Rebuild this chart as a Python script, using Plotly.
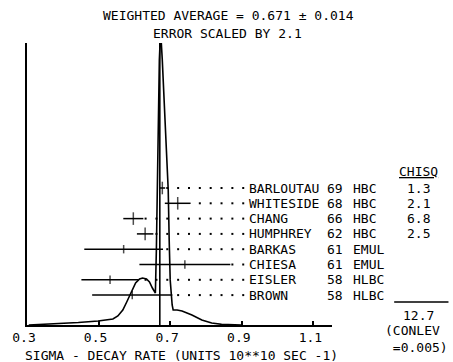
import plotly.graph_objects as go

# ---------------- data ----------------
names = ["BARLOUTAU", "WHITESIDE", "CHANG", "HUMPHREY", "BARKAS", "CHIESA", "EISLER", "BROWN"]
years = ["69", "68", "66", "62", "61", "61", "58", "58"]
techs = ["HBC", "HBC", "HBC", "HBC", "EMUL", "EMUL", "HLBC", "HLBC"]
values = [0.678, 0.721, 0.597, 0.630, 0.570, 0.741, 0.532, 0.594]
errors = [0.008, 0.036, 0.028, 0.023, 0.110, 0.127, 0.080, 0.112]
chisq = ["1.3", "2.1", "6.8", "2.5"]
chisq_total = "12.7"
conlev = "(CONLEV<br> =0.005)"
avg_value = 0.671

# ideogram curve (x in units of 10**10 s^-1, relative height)
curve_x = [0.305, 0.3745, 0.4434, 0.4986, 0.5262, 0.540, 0.5538, 0.5676, 0.5786, 0.5897,
           0.6034, 0.6145, 0.6228, 0.6338, 0.6421, 0.6503, 0.6586, 0.6614, 0.6641, 0.6669,
           0.6697, 0.6717, 0.6752, 0.6779, 0.6834, 0.6890, 0.6945, 0.6972, 0.700, 0.7055,
           0.7083, 0.7193, 0.7331, 0.7469, 0.7607, 0.7883, 0.8159, 0.8434, 0.8986]
curve_y = [0.0, 0.0035, 0.0089, 0.0142, 0.0177, 0.0213, 0.0319, 0.0532, 0.0816, 0.1135,
           0.1489, 0.1631, 0.1667, 0.1631, 0.1525, 0.1312, 0.1135, 0.266, 0.514, 0.762,
           0.940, 1.0, 1.0, 0.940, 0.798, 0.656, 0.479, 0.301, 0.160, 0.0709,
           0.0532, 0.0532, 0.0496, 0.0426, 0.0355, 0.0177, 0.0071, 0.0025, 0.0]

tick_vals = [0.3, 0.5, 0.7, 0.9, 1.1]
tick_text = ["0.3", "0.5", "0.7", "0.9", "1.1"]

# ---------------- layout constants ----------------
W, H = 453, 362
ML, MR, MT, MB = 23, 121, 43, 37
PW, PH = W - ML - MR, H - MT - MB
XR = [0.3, 1.152]
FONT = "DejaVu Sans Mono"
FS = 13
dot_x0 = 0.904      # leader dot right before the name
dot_dx = 0.0303     # leader dot spacing

def px2paper_x(px):
    return (px - ML) / PW

def px2paper_y(py):
    return (H - MB - py) / PH

rows = list(range(len(names)))

fig = go.Figure()

# ideogram
fig.add_trace(go.Scatter(x=curve_x, y=curve_y, mode="lines",
                         line=dict(color="black", width=1.6), cliponaxis=False,
                         hoverinfo="skip", showlegend=False))
# weighted average line
fig.add_trace(go.Scatter(x=[avg_value, avg_value], y=[0, 1], mode="lines",
                         line=dict(color="black", width=1.6), cliponaxis=False,
                         hoverinfo="skip", showlegend=False))

# leader dots
dx, dy = [], []
for r, v, e in zip(rows, values, errors):
    hi = v + e
    k = 0
    while dot_x0 - k * dot_dx > hi + 0.005:
        dx.append(dot_x0 - k * dot_dx)
        dy.append(r)
        k += 1
fig.add_trace(go.Scatter(x=dx, y=dy, yaxis="y2", mode="markers",
                         marker=dict(color="black", size=2, symbol="square"),
                         hoverinfo="skip", showlegend=False))

# measurements with error bars
sizes = [9 if e < 0.05 else 6 for e in errors]
fig.add_trace(go.Scatter(x=values, y=rows, yaxis="y2", mode="markers",
                         marker=dict(symbol="line-ns-open", size=sizes, color="black",
                                     line=dict(color="black", width=1.5)),
                         error_x=dict(type="data", array=errors, symmetric=True,
                                      color="black", thickness=1.5, width=0),
                         cliponaxis=False, hoverinfo="skip", showlegend=False))

ann = []
txt = dict(family=FONT, size=FS, color="black")
for r in rows:
    ann.append(dict(x=px2paper_x(246), y=r, xref="paper", yref="y2", text=names[r],
                    showarrow=False, xanchor="left", yanchor="middle", font=txt))
    ann.append(dict(x=px2paper_x(325), y=r, xref="paper", yref="y2", text=years[r],
                    showarrow=False, xanchor="left", yanchor="middle", font=txt))
    ann.append(dict(x=px2paper_x(351), y=r, xref="paper", yref="y2", text=techs[r],
                    showarrow=False, xanchor="left", yanchor="middle", font=txt))
for r, c in enumerate(chisq):
    ann.append(dict(x=px2paper_x(420), y=r, xref="paper", yref="y2", text=c,
                    showarrow=False, xanchor="center", yanchor="middle", font=txt))
ann.append(dict(x=px2paper_x(420), y=-1.05, xref="paper", yref="y2", text="<u>CHISQ</u>",
                showarrow=False, xanchor="center", yanchor="middle", font=txt))
ann.append(dict(x=px2paper_x(420), y=px2paper_y(315), xref="paper", yref="paper",
                text=chisq_total, showarrow=False, xanchor="center", yanchor="middle", font=txt))
ann.append(dict(x=px2paper_x(452), y=px2paper_y(339), xref="paper", yref="paper",
                text=conlev, showarrow=False, xanchor="right", yanchor="middle",
                align="left", font=txt))
ann.append(dict(x=px2paper_x(227), y=px2paper_y(15), xref="paper", yref="paper",
                text="WEIGHTED AVERAGE = %.3f ± 0.014" % avg_value, showarrow=False,
                xanchor="center", yanchor="middle", font=txt))
ann.append(dict(x=px2paper_x(226), y=px2paper_y(33), xref="paper", yref="paper",
                text="ERROR SCALED BY 2.1", showarrow=False,
                xanchor="center", yanchor="middle", font=txt))
ann.append(dict(x=px2paper_x(19), y=px2paper_y(355), xref="paper", yref="paper",
                text="SIGMA - DECAY RATE (UNITS 10**10 SEC -1)", showarrow=False,
                xanchor="left", yanchor="middle", font=txt))

shapes = [dict(type="line", xref="paper", yref="paper",
               x0=px2paper_x(395), x1=px2paper_x(450),
               y0=px2paper_y(302), y1=px2paper_y(302),
               line=dict(color="black", width=1.5))]

fig.update_layout(
    width=W, height=H, margin=dict(l=ML, r=MR, t=MT, b=MB, pad=0),
    paper_bgcolor="white", plot_bgcolor="white",
    font=txt, annotations=ann, shapes=shapes,
    xaxis=dict(range=XR, tickvals=tick_vals, ticktext=tick_text,
               showline=True, linecolor="black", linewidth=1.5,
               ticks="inside", ticklen=4, tickwidth=1.5, tickcolor="black",
               showgrid=False, zeroline=False, tickfont=txt, ticklabelshift=-3),
    yaxis=dict(range=[0, 1], showline=True, linecolor="black", linewidth=1.5,
               showticklabels=False, ticks="", showgrid=False, zeroline=False),
    yaxis2=dict(range=[8.954, -9.477], overlaying="y", visible=False),
)

fig.write_html("out.html")
